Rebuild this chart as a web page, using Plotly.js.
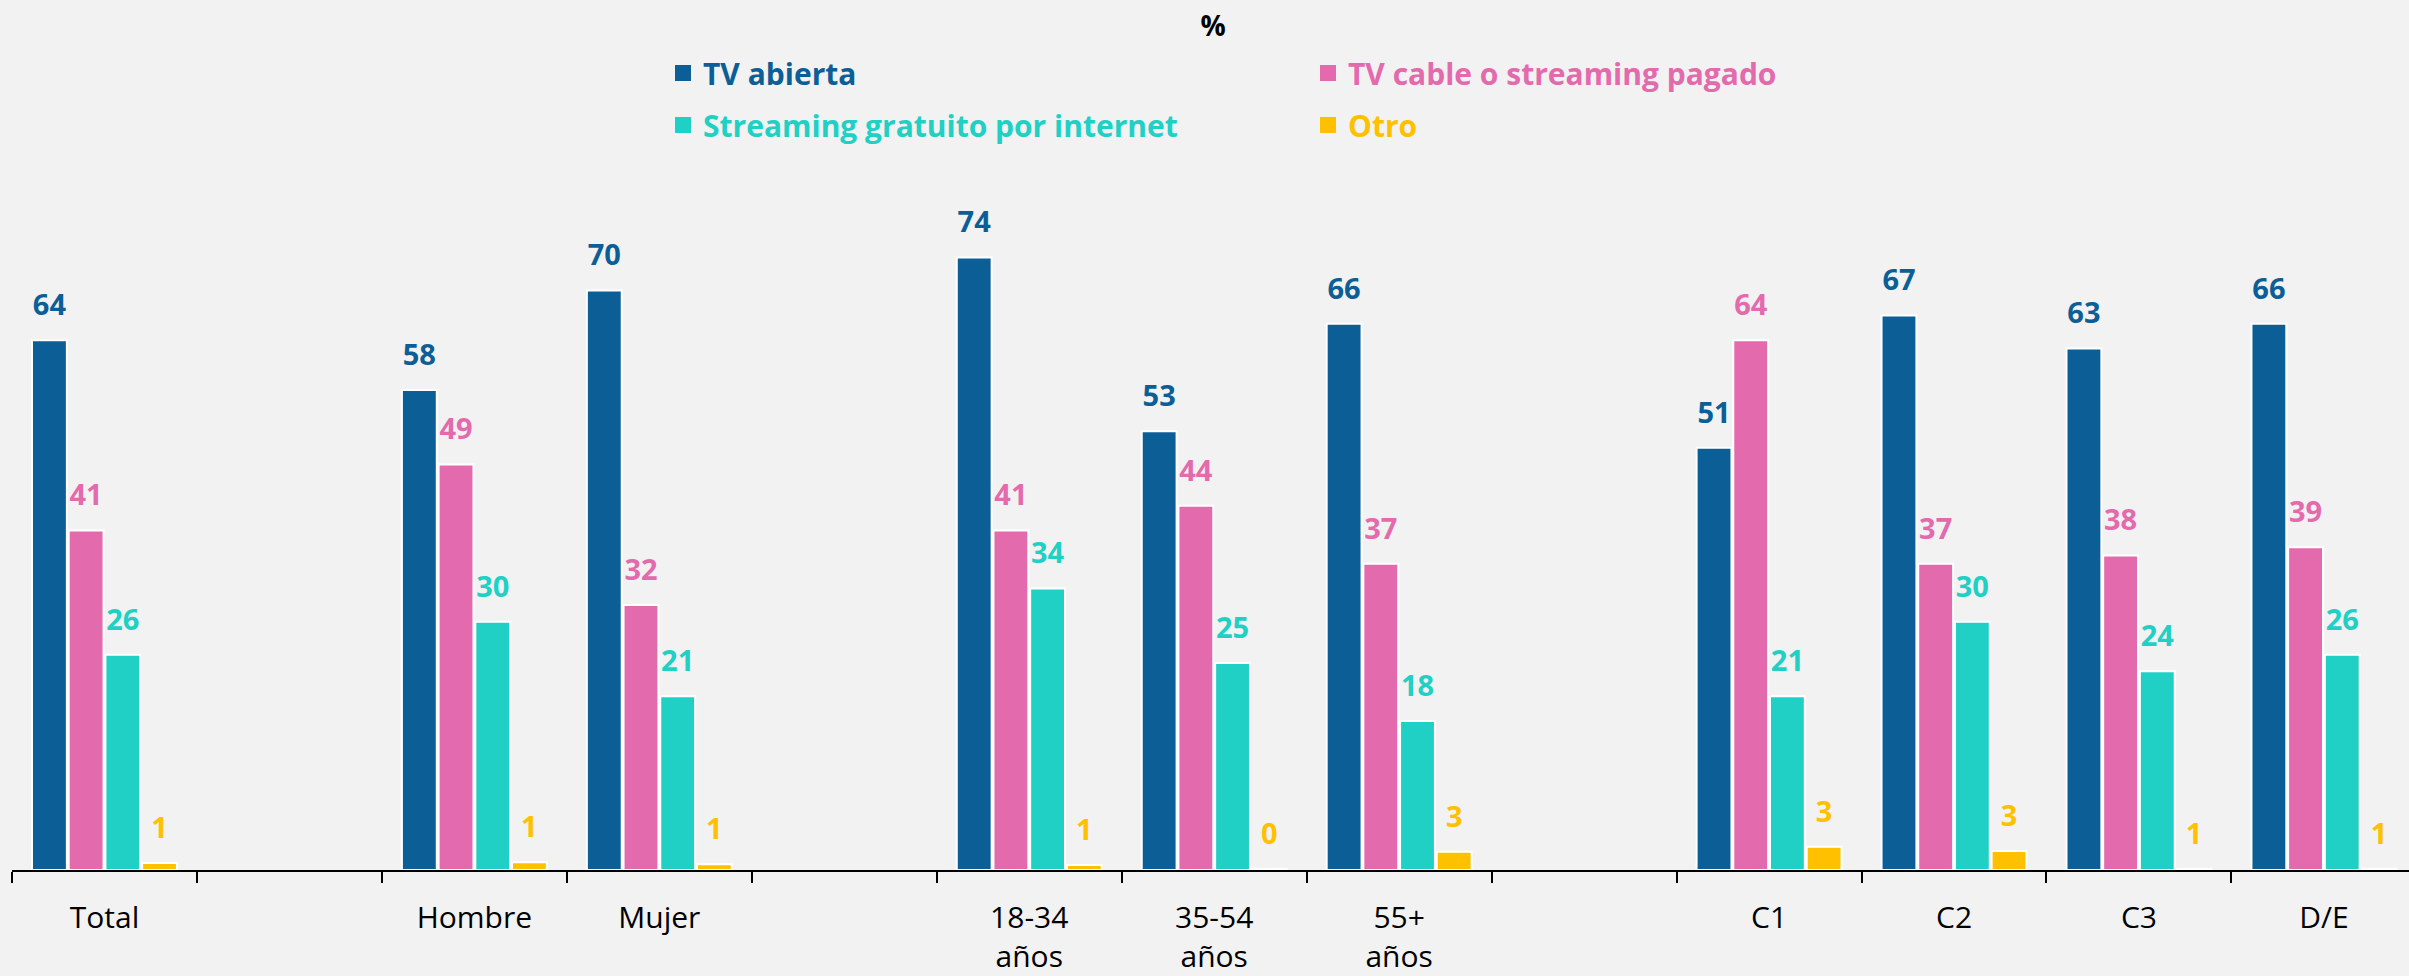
<!DOCTYPE html>
<html>
<head>
<meta charset="utf-8">
<script src="https://cdn.plot.ly/plotly-3.0.1.min.js"></script>
<style>html,body{margin:0;padding:0;background:#f3f2f2;}#chart{width:2409px;height:976px;}</style>
</head>
<body>
<div id="chart"></div>
<script>
const categories = ["Total", " ", "Hombre", "Mujer", "  ", "18-34<br>años", "35-54<br>años", "55+<br>años", "   ", "C1", "C2", "C3", "D/E"];
const seriesNames = ["TV abierta", "TV cable o streaming pagado", "Streaming gratuito por internet", "Otro"];
const tvAbierta = [64, null, 58, 70, null, 74, 53, 66, null, 51, 67, 63, 66];
const tvCable = [41, null, 49, 32, null, 41, 44, 37, null, 64, 37, 38, 39];
const streaming = [26, null, 30, 21, null, 34, 25, 18, null, 21, 30, 24, 26];
const otro = [0.85, null, 0.95, 0.7, null, 0.6, 0.15, 2.2, null, 2.8, 2.3, 0.15, 0.15];
const tvAbiertaLabels = [64, null, 58, 70, null, 74, 53, 66, null, 51, 67, 63, 66];
const tvCableLabels = [41, null, 49, 32, null, 41, 44, 37, null, 64, 37, 38, 39];
const streamingLabels = [26, null, 30, 21, null, 34, 25, 18, null, 21, 30, 24, 26];
const otroLabels = [1, null, 1, 1, null, 1, 0, 3, null, 3, 3, 1, 1];
const colors = ["#0c5e97", "#e36aad", "#21d0c4", "#ffc000"];

const FONT = "Open Sans, Noto Sans, sans-serif";
const values = [tvAbierta, tvCable, streaming, otro];
const labels = [tvAbiertaLabels, tvCableLabels, streamingLabels, otroLabels];
const GAP = 0.2065;

const traces = [];
values.forEach((v, i) => {
  traces.push({
    type: "bar", x: categories, y: v, name: seriesNames[i], showlegend: false,
    marker: {color: colors[i], line: {color: "#ffffff", width: 2}},
    hoverinfo: "x+y"
  });
});
values.forEach((v, i) => {
  traces.push({
    type: "scatter", mode: "markers+text", x: categories, y: v,
    text: labels[i].map(l => l === null ? "" : String(l)),
    textposition: "top center",
    textfont: {family: FONT, size: 29, weight: 700, color: colors[i]},
    marker: {size: 27, opacity: 0, color: colors[i]},
    showlegend: false, hoverinfo: "skip", cliponaxis: false
  });
});
const legendRows = ["legend", "legend", "legend2", "legend2"];
const legendOrder = [0, 1, 2, 3];
legendOrder.forEach((i) => {
  traces.push({
    type: "scatter", mode: "markers", x: [null], y: [null],
    name: '<span style="color:' + colors[i] + '">' + seriesNames[i] + '</span>',
    xaxis: "x2", yaxis: "y2",
    marker: {symbol: "square", size: 16, color: colors[i]},
    legend: legendRows[i],
    showlegend: true, hoverinfo: "skip"
  });
});

const legendCommon = {
  orientation: "h", xref: "container", yref: "container",
  x: 663 / 2409, xanchor: "left", yanchor: "middle",
  entrywidth: 600, entrywidthmode: "pixels",
  bgcolor: "rgba(0,0,0,0)", borderwidth: 0,
  font: {family: FONT, size: 30, weight: 700},
  itemclick: false, itemdoubleclick: false
};

const layout = {
  width: 2409, height: 976,
  paper_bgcolor: "#f3f2f2", plot_bgcolor: "rgba(0,0,0,0)",
  margin: {l: 12, r: 0, t: 0, b: 106, pad: 0, autoexpand: false},
  barmode: "group", bargap: GAP, bargroupgap: 0.05,
  scattermode: "group", scattergap: GAP,
  title: {text: "%", x: 1213 / 2409, xref: "container", xanchor: "center",
          y: 1 - 26 / 976, yref: "container", yanchor: "middle",
          font: {family: FONT, size: 28, weight: 700, color: "#000000"}},
  xaxis: {
    type: "category", range: [-0.5, 12.46],
    showline: true, linecolor: "#000000", linewidth: 2,
    ticks: "outside", tickson: "boundaries", ticklen: 11, tickwidth: 2, tickcolor: "#000000",
    ticklabelstandoff: 20,
    tickfont: {family: FONT, size: 30, color: "#000000"},
    showgrid: false, zeroline: false, fixedrange: true
  },
  yaxis: {range: [0, 105.1], visible: false, showgrid: false, zeroline: false, fixedrange: true},
  xaxis2: {overlaying: "x", visible: false},
  yaxis2: {overlaying: "y", visible: false},
  legend: Object.assign({}, legendCommon, {y: 1 - 73 / 976}),
  legend2: Object.assign({}, legendCommon, {y: 1 - 125 / 976}),
  showlegend: true
};

Plotly.newPlot("chart", traces, layout, {displayModeBar: false});
</script>
</body>
</html>
